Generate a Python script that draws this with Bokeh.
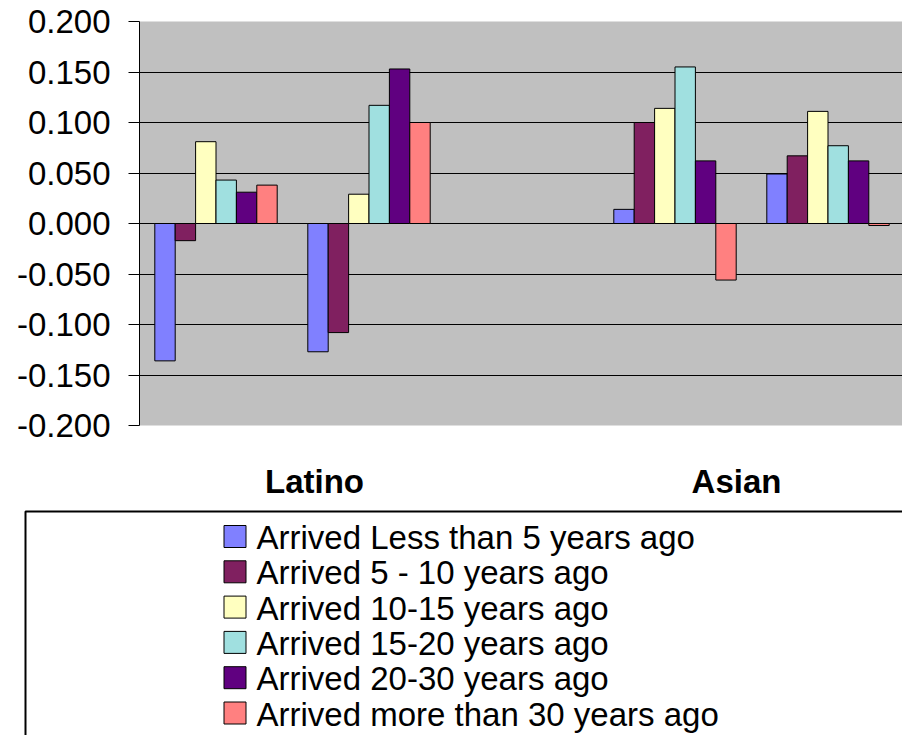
from bokeh.plotting import figure
from bokeh.models import Range1d, FixedTicker, NumeralTickFormatter, BoxAnnotation, Grid
from bokeh.embed import file_html
from bokeh.resources import INLINE
from bokeh.core.properties import value

# ---------------- data ----------------
series_names = [
    "Arrived Less than 5 years ago",
    "Arrived 5 - 10 years ago",
    "Arrived 10-15 years ago",
    "Arrived 15-20 years ago",
    "Arrived 20-30 years ago",
    "Arrived more than 30 years ago",
]
cluster_slots = [0, 1, 3, 4]          # category slots of the four clusters (slot 2 is empty)
group_labels = ["Latino", "Asian"]
group_label_pos = [1.144, 3.902]      # position along the category axis

s_lt5 = [-0.136, -0.127, 0.014, 0.049]
s_5_10 = [-0.017, -0.108, 0.100, 0.067]
s_10_15 = [0.081, 0.029, 0.114, 0.111]
s_15_20 = [0.043, 0.117, 0.155, 0.077]
s_20_30 = [0.031, 0.153, 0.062, 0.062]
s_gt30 = [0.038, 0.100, -0.056, -0.002]

y_ticks = [-0.2, -0.15, -0.1, -0.05, 0.0, 0.05, 0.1, 0.15, 0.2]

# ---------------- styles ----------------
colors = ["#8080FF", "#802060", "#FFFFC0", "#A0E0E0", "#600080", "#FF8080"]
FONT = "Liberation Sans"
FS = "33px"

W = 902
FRAME_LEFT = 139
FRAME_TOP = 21
FRAME_H = 404
FRAME_BOTTOM_PAD = 22
HA = FRAME_TOP + FRAME_H + FRAME_BOTTOM_PAD
HB = 735 - HA
PX_PER_CAT = 153.0
N_CAT_BARS = 7.5         # 6 bars + 150% gap
series = [s_lt5, s_5_10, s_10_15, s_15_20, s_20_30, s_gt30]

pa = figure(width=W, height=HA, output_backend="svg", toolbar_location=None,
            x_range=Range1d(0, (W - FRAME_LEFT) / PX_PER_CAT),
            y_range=Range1d(-0.2, 0.2),
            x_axis_location=None,
            min_border_left=FRAME_LEFT, min_border_right=0,
            min_border_top=FRAME_TOP, min_border_bottom=FRAME_BOTTOM_PAD)
pa.background_fill_color = "#C0C0C0"
pa.border_fill_color = "white"
pa.outline_line_color = None

ax = pa.yaxis[0]
ax.ticker = FixedTicker(ticks=y_ticks)
ax.formatter = NumeralTickFormatter(format="0.000")
ax.major_label_text_font = FONT
ax.major_label_text_font_size = FS
ax.major_label_text_color = "black"
ax.major_tick_in = 0
ax.major_tick_out = 11
ax.minor_tick_in = 0
ax.minor_tick_out = 0
ax.major_label_standoff = 18
ax.axis_line_color = "black"
ax.major_tick_line_color = "black"

pa.xgrid.visible = False
pa.ygrid.ticker = FixedTicker(ticks=y_ticks[1:-1])
pa.ygrid.grid_line_color = "black"
pa.ygrid.grid_line_width = 1
# plot-area border (top and bottom) in grey
pa.add_layout(Grid(dimension=1, ticker=FixedTicker(ticks=[y_ticks[0], y_ticks[-1]]),
                   grid_line_color="#808080", grid_line_width=2))

bw = 1.0 / N_CAT_BARS
for j, vals in enumerate(series):
    xs = [s + 0.75 * bw + (j + 0.5) * bw for s in cluster_slots]
    pa.vbar(x=xs, top=vals, bottom=0, width=bw,
            fill_color=colors[j], line_color="black", line_width=1)

# ---------------- lower part: category labels and legend ----------------
pb = figure(width=W, height=HB, output_backend="svg", toolbar_location=None,
            x_range=Range1d(0, W), y_range=Range1d(735, HA),
            x_axis_location=None, y_axis_location=None, min_border=0)
pb.outline_line_color = None
pb.xgrid.visible = False
pb.ygrid.visible = False
pb.background_fill_color = "white"

lab_x = [FRAME_LEFT + PX_PER_CAT * g for g in group_label_pos]
pb.text(x=lab_x, y=[481] * len(group_labels), text=group_labels,
        text_align="center", text_baseline="middle",
        text_font=value(FONT), text_font_style="bold", text_font_size=FS,
        text_color="black")

pb.add_layout(BoxAnnotation(left=25, right=1200, top=511, bottom=900,
                            fill_alpha=0, line_color="black", line_alpha=1,
                            line_width=2))

row_y = [536 + 35.3 * i for i in range(len(series_names))]
pb.rect(x=[234.5] * len(series_names), y=row_y, width=22, height=22,
        fill_color=colors, line_color="black", line_width=1)
pb.text(x=[256] * len(series_names), y=[r + 1 for r in row_y], text=series_names,
        text_align="left", text_baseline="middle",
        text_font=value(FONT), text_font_size=FS, text_color="black")

open("out.html", "w").write(file_html([pa, pb], INLINE))
